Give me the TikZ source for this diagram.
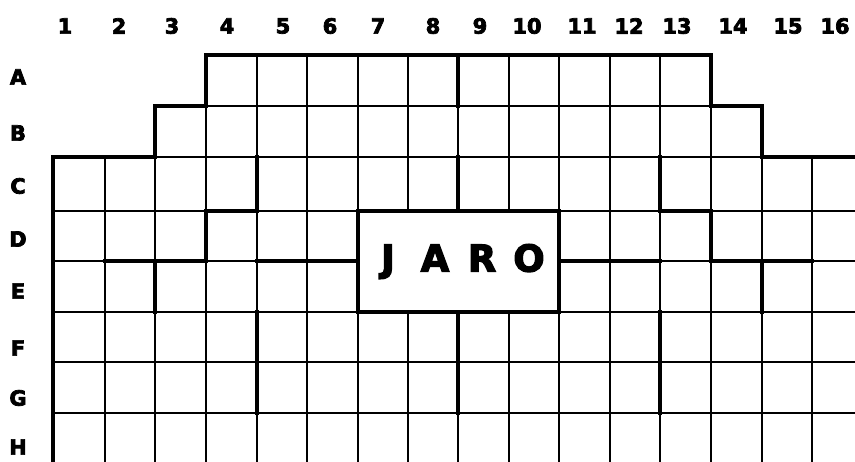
\documentclass[tikz,border=0pt]{standalone}
\usepackage{fontspec}
\newfontfamily\lab{DejaVu Sans}[BoldFeatures={FakeBold=3.5}]
\begin{document}
\begin{tikzpicture}[x=1bp,y=-1bp,
  gridline/.style={line width=1.8bp,black},
  wall/.style={line width=4.5bp,black,line cap=rect,line join=miter},
  collab/.style={font=\lab\bfseries\fontsize{21}{21}\selectfont,inner sep=0pt,anchor=center},
  title/.style={font=\lab\bfseries\fontsize{37}{37}\selectfont,inner sep=0pt,anchor=center}]
\useasboundingbox (0,0) rectangle (855,462);
\fill[white] (0,0) rectangle (855,462);
% thin grid: vertical lines
\foreach \x/\t in {53/157,105/157,155/106,206/55,257/55,307/55,358/55,408/55,458/55,509/55,559/55,610/55,660/55,711/55,762/106,812/157}
  \draw[gridline] (\x,\t) -- (\x,462);
% thin grid: horizontal lines
\foreach \y/\a/\b in {55/206/711,106/155/762,157/53/855,211/53/855,261/53/855,312/53/855,362/53/855,413/53/855}
  \draw[gridline] (\a,\y) -- (\b,\y);
% central box
\node[draw,line width=4.5bp,fill=white,minimum width=201bp,minimum height=101bp,inner sep=0pt,
  title] (jaro) at (458.5,261.5)
  {\makebox[47bp]{J}\makebox[47bp]{A}\makebox[47bp]{R}\makebox[47bp]{O}};
% outer border
\draw[wall] (53,470) -- (53,157) -- (155,157) -- (155,106) -- (206,106) -- (206,55)
  -- (711,55) -- (711,106) -- (762,106) -- (762,157) -- (860,157);
% inner walls
\draw[wall] (458,55) -- (458,106);
\draw[wall] (458,157) -- (458,211);
\draw[wall] (257,157) -- (257,211) -- (206,211) -- (206,261) -- (105,261);
\draw[wall] (155,261) -- (155,312);
\draw[wall] (257,261) -- (358,261);
\draw[wall] (559,261) -- (660,261);
\draw[wall] (660,157) -- (660,211) -- (711,211) -- (711,261) -- (812,261);
\draw[wall] (762,261) -- (762,312);
\draw[wall] (257,312) -- (257,413);
\draw[wall] (458,312) -- (458,413);
\draw[wall] (660,312) -- (660,413);
% column labels
\foreach \n/\x in {1/65,2/119,3/172,4/227,5/283,6/330,7/378,8/433,9/480,10/527,11/582,12/629,13/677,14/733,15/788,16/835}
  \node[collab] (c\n) at (\x,26) {\n};
% row labels
\foreach \r/\y in {A/77,B/133,C/186,D/239,E/291,F/348,G/398,H/447}
  \node[collab] (r\r) at (18,\y) {\r};
\end{tikzpicture}
\end{document}
